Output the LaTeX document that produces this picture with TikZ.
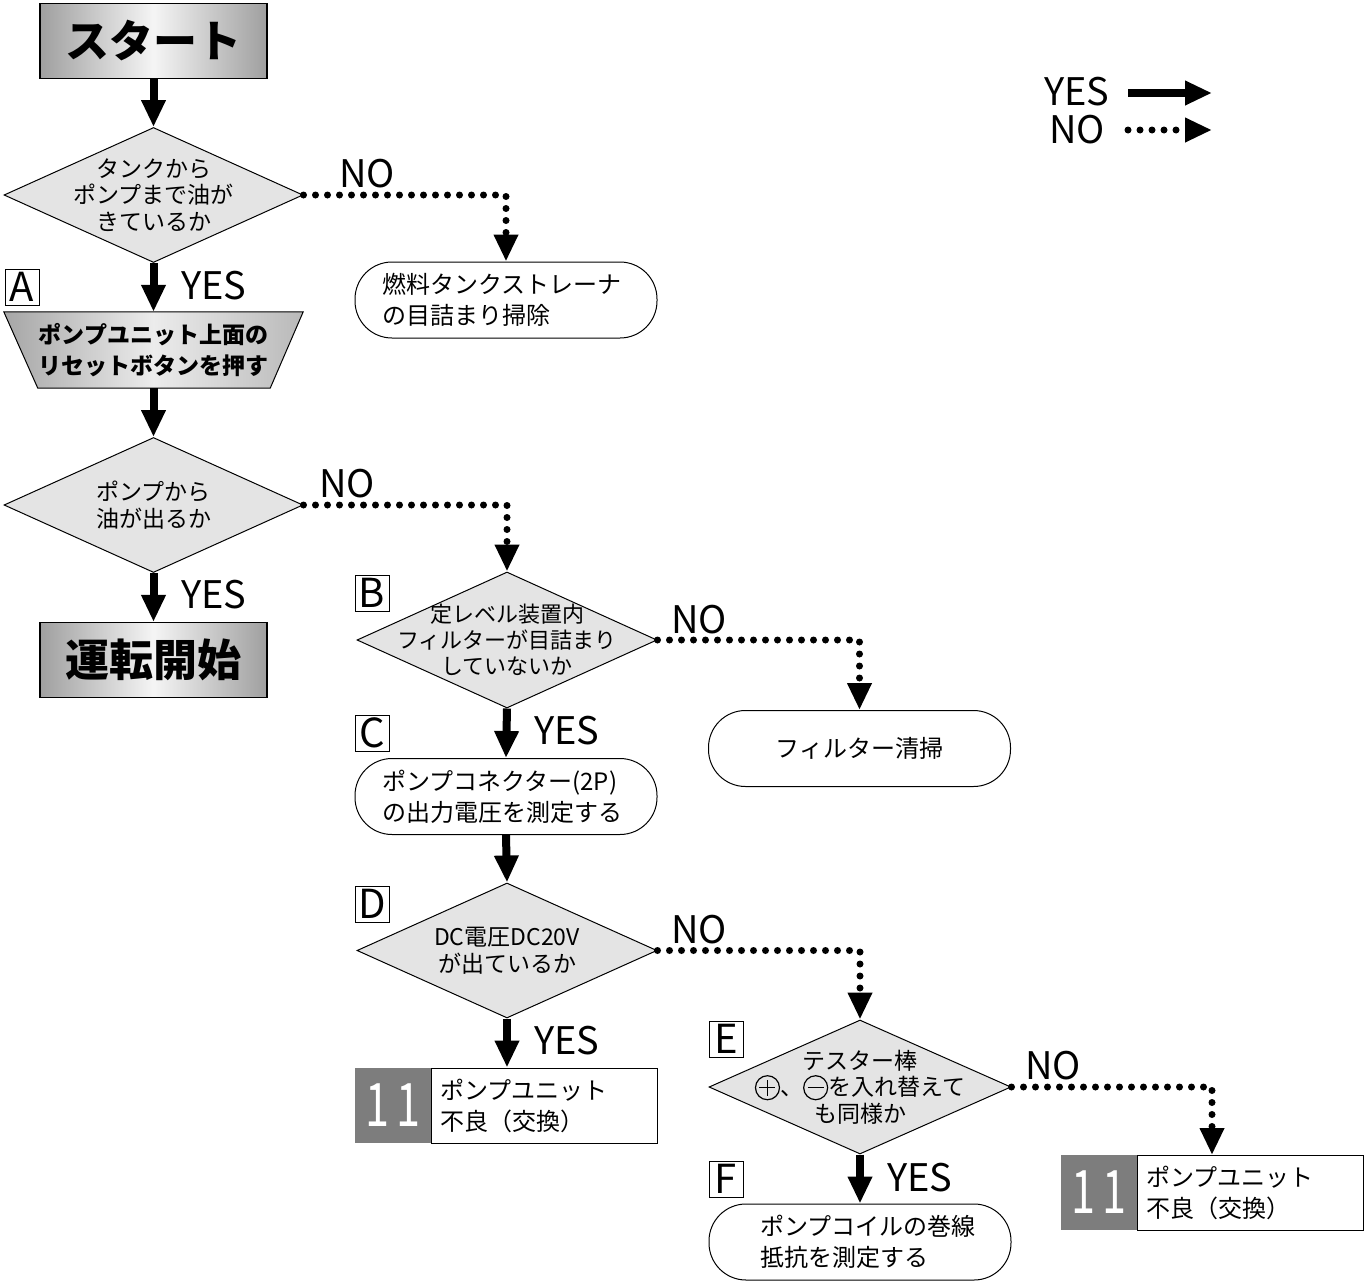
\documentclass[tikz,border=0pt]{standalone}
\usepackage{fontspec}
\setmainfont{Noto Sans CJK JP}
\usetikzlibrary{arrows.meta,shapes.geometric,calc}
\definecolor{dfill}{RGB}{228,228,228}
\definecolor{numgray}{RGB}{125,125,125}
\tikzset{
  yesarrow/.style={draw, line width=8pt, -{Triangle[width=23pt,length=27pt]}},
  noarrow/.style={draw, line width=7pt, line cap=round, dash pattern=on 0pt off 12pt,
     -{Triangle[width=23pt,length=27pt]}},
  dmd/.style={diamond, draw, fill=dfill, line width=1pt, inner sep=0pt,
     minimum width=299pt, minimum height=135pt},
  dtext/.style={align=center, font=\fontsize{23}{26.5}\selectfont, inner sep=0pt},
  rbox/.style={draw, line width=1pt, rounded corners=37pt, minimum width=302pt,
     minimum height=76pt, inner sep=0pt},
  rtext/.style={align=left, font=\fontsize{24}{31}\selectfont, inner sep=0pt},
  metal/.style={draw, line width=1.2pt, minimum width=227pt, minimum height=75pt,
     shading=axis, shading angle=30, left color=gray!75, right color=gray!75, middle color=gray!8},
  bigtext/.style={font=\bfseries\fontsize{44}{44}\selectfont},
  lbl/.style={font=\fontsize{38}{38}\selectfont, inner sep=0pt},
  letterbox/.style={draw, line width=1pt, minimum width=34pt, minimum height=36pt, inner sep=0pt,
     font=\fontsize{40}{40}\selectfont},
  numbox/.style={fill=numgray, minimum width=76pt, minimum height=75pt, inner sep=0pt,
     text=white, font=\fontsize{60}{60}\selectfont},
  numtext/.style={draw, line width=1pt, text width=208pt, minimum height=75pt, inner ysep=0pt,
     inner xsep=9pt, align=left, font=\fontsize{24}{31}\selectfont},
}
\newcommand{\cplus}{\tikz[baseline={(0pt,-8pt)}, x=1pt, y=1pt]{\draw[line width=1.2pt] (0,0) circle (12pt); \draw[line width=1.2pt] (-8,0) -- (8,0) (0,-8) -- (0,8);}}
\newcommand{\cminus}{\tikz[baseline={(0pt,-8pt)}, x=1pt, y=1pt]{\draw[line width=1.2pt] (0,0) circle (12pt); \draw[line width=1.2pt] (-8,0) -- (8,0);}}
\begin{document}
\begin{tikzpicture}[x=1pt,y=-1pt]
\useasboundingbox (0,0) rectangle (1366,1282);

% Start
\node[metal] (start) at (153.5,41) {};
\node[bigtext] (starttxt) at (start) {スタート};

% Diamond 1
\node[dmd] (d1) at (153.5,195) {};
\node[dtext] (d1t) at (d1) {タンクから\\ポンプまで油が\\きているか};

% Rounded box 1
\node[rbox] (r1) at (506,300) {};
\node[rtext, anchor=west] (r1t) at (382,300) {燃料タンクストレーナ\\の目詰まり掃除};

% Trapezoid
\node[minimum width=299pt, minimum height=76pt, inner sep=0pt] (trap) at (153.5,350) {};
\path[draw, line width=1pt, shading=axis, shading angle=20, left color=gray!70, right color=gray!55, middle color=gray!15]
  (trap.north west) -- (trap.north east) -- ($(trap.south east)+(-33,0)$) -- ($(trap.south west)+(34,0)$) -- cycle;
\node[align=center, font=\bfseries\fontsize{23}{31}\selectfont, inner sep=0pt] (trapt) at (trap) {ポンプユニット上面の\\リセットボタンを押す};

% Diamond 2
\node[dmd] (d2) at (153.5,505) {};
\node[dtext] (d2t) at (d2) {ポンプから\\油が出るか};

% Run box
\node[metal] (run) at (153.5,660) {};
\node[bigtext] (runtxt) at (run) {運転開始};

% Diamond B
\node[dmd, minimum width=300pt, minimum height=136pt] (dB) at (507,640) {};
\node[dtext, font=\fontsize{22}{26}\selectfont] (dBt) at (dB) {定レベル装置内\\フィルターが目詰まり\\していないか};

% Filter clean box
\node[rbox] (rF) at (859.5,748.5) {};
\node[rtext] (rFt) at (rF) {フィルター清掃};

% Box C
\node[rbox] (rC) at (506,796.5) {};
\node[rtext, anchor=west] (rCt) at (382,796.5) {ポンプコネクター(2P)\\の出力電圧を測定する};

% Diamond D
\node[dmd, minimum width=300pt] (dD) at (507,950.5) {};
\node[dtext] (dDt) at (dD) {DC電圧DC20V\\が出ているか};

% Box 11 (1)
\node[numbox] (n1) at (393,1105.5) {\scalebox{0.72}[1]{1\,1}};
\node[numtext] (n1b) at (544,1105.5) {ポンプユニット\\不良（交換）};

% Diamond E
\node[dmd, minimum width=302pt, minimum height=134pt] (dE) at (860,1087) {};
\node[dtext] (dEt) at (dE) {テスター棒\\\cplus、\cminus を入れ替えて\\も同様か};

% Box 11 (2)
\node[numbox] (n2) at (1099,1192.5) {\scalebox{0.72}[1]{1\,1}};
\node[numtext] (n2b) at (1250,1192.5) {ポンプユニット\\不良（交換）};

% Box F
\node[rbox] (rFF) at (860,1242) {};
\node[rtext, anchor=west] (rFFt) at (760,1242) {ポンプコイルの巻線\\抵抗を測定する};

% Letter boxes
\node[letterbox] (lA) at (22,287) {A};
\node[letterbox] (lB) at (372,593) {B};
\node[letterbox] (lC) at (372,733) {C};
\node[letterbox] (lD) at (372,904) {D};
\node[letterbox] (lE) at (726,1039) {E};
\node[letterbox] (lF) at (726,1179) {F};

% YES arrows
\path[yesarrow] (start.south) -- (d1.north);
\path[yesarrow] (d1.south) -- (trap.north);
\path[yesarrow] (trap.south) -- (d2.north);
\path[yesarrow] (d2.south) -- (run.north);
\path[yesarrow] (dB.south) -- (rC.north);
\path[yesarrow] (rC.south) -- (dD.north);
\path[yesarrow] (dD.south) -- (n1b.north -| dD.south);
\path[yesarrow] (dE.south) -- (rFF.north);

% NO arrows
\coordinate (n2in) at (1212,1155);
\path[noarrow] (d1.east) -| (r1.north);
\path[noarrow] (d2.east) -| (dB.north);
\path[noarrow] (dB.east) -| (rF.north);
\path[noarrow] (dD.east) -| (dE.north);
\path[noarrow] (dE.east) -| (n2in);

% YES / NO labels
\node[lbl] (y1) at (214,286) {YES};
\node[lbl] (y2) at (214,595) {YES};
\node[lbl] (y3) at (567,731) {YES};
\node[lbl] (y4) at (567,1041) {YES};
\node[lbl] (y5) at (920,1178) {YES};
\node[lbl] (no1) at (367,174) {NO};
\node[lbl] (no2) at (347,484) {NO};
\node[lbl] (no3) at (699,620) {NO};
\node[lbl] (no4) at (699,930) {NO};
\node[lbl] (no5) at (1053,1066) {NO};

% Legend
\node[lbl] (legy) at (1077,92) {YES};
\node[lbl] (legn) at (1077,130) {NO};
\coordinate (legy1) at (1128,93);
\coordinate (legy2) at (1212,93);
\coordinate (legn1) at (1128,130);
\coordinate (legn2) at (1212,130);
\path[yesarrow] (legy1) -- (legy2);
\path[noarrow] (legn1) -- (legn2);
\end{tikzpicture}
\end{document}
